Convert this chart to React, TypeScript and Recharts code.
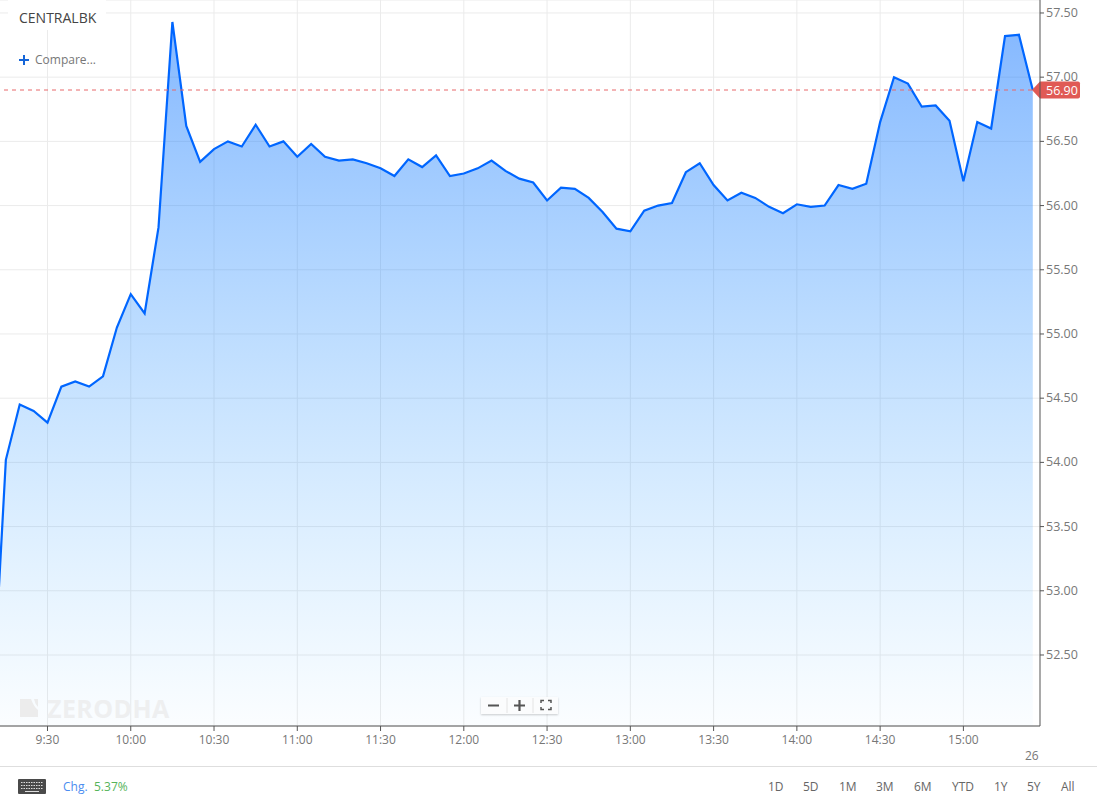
import React from "react";
import { ComposedChart, Area, XAxis, YAxis, CartesianGrid, ReferenceLine } from "recharts";

// minutes since midnight, one reading every five minutes from 9:10
const startMinutes = [550];
const prices = [
  52.03, 54.02, 54.45, 54.40, 54.31, 54.59, 54.63, 54.59, 54.67, 55.05, 55.31, 55.16, 55.83, 57.43, 56.62, 56.34,
  56.44, 56.50, 56.46, 56.63, 56.46, 56.50, 56.38, 56.48, 56.38, 56.35, 56.36, 56.33, 56.29, 56.23, 56.36, 56.30,
  56.39, 56.23, 56.25, 56.29, 56.35, 56.27, 56.21, 56.18, 56.04, 56.14, 56.13, 56.06, 55.95, 55.82, 55.80, 55.96,
  56.00, 56.02, 56.26, 56.33, 56.16, 56.04, 56.10, 56.06, 55.99, 55.94, 56.01, 55.99, 56.00, 56.16, 56.13, 56.17,
  56.65, 57.00, 56.95, 56.77, 56.78, 56.66, 56.19, 56.65, 56.60, 57.32, 57.33, 56.90,
];
const priceTicks = [52.5, 53, 53.5, 54, 54.5, 55, 55.5, 56, 56.5, 57, 57.5];
const timeTicks = [570, 600, 630, 660, 690, 720, 750, 780, 810, 840, 870, 900];
const lastPrice = 56.9;
const ranges = [
  { label: "1D", left: 768 },
  { label: "5D", left: 803 },
  { label: "1M", left: 839 },
  { label: "3M", left: 876 },
  { label: "6M", left: 914 },
  { label: "YTD", left: 952 },
  { label: "1Y", left: 994 },
  { label: "5Y", left: 1027 },
  { label: "All", left: 1061 },
];

const chartData = prices.map((price, i) => ({ minute: startMinutes[0] + i * 5, price }));
const FONT = '"Open Sans", sans-serif';

const fmtTime = (m: number) => `${Math.floor(m / 60)}:${String(m % 60).padStart(2, "0")}`;

const PriceTag = (props: any) => {
  const y = props.viewBox.y;
  const x = 1032;
  return (
    <g>
      <path
        d={`M${x} ${y} L${x + 8} ${y - 8.5} H1078 Q1080 ${y - 8.5} 1080 ${y - 6.5} V${y + 6.5} Q1080 ${y + 8.5} 1078 ${y + 8.5} H${x + 8} Z`}
        fill="#e05a55"
      />
      <text x={1046} y={y + 4.5} fill="#fff" fontSize={12.5} fontFamily={FONT}>
        {lastPrice.toFixed(2)}
      </text>
    </g>
  );
};

const abs = (left: number, top: number, extra: React.CSSProperties = {}): React.CSSProperties => ({
  position: "absolute",
  left,
  top,
  lineHeight: "16px",
  whiteSpace: "nowrap",
  ...extra,
});

export default function App() {
  return (
    <div style={{ position: "absolute", left: 0, top: 0, width: 1097, height: 809, overflow: "hidden", background: "#fff", fontFamily: FONT, fontSize: 12, color: "#666" }}>
      <ComposedChart width={1097} height={809} data={chartData} margin={{ top: 0, right: 0, bottom: 0, left: 0 }}>
        <defs>
          <linearGradient id="priceFill" gradientUnits="userSpaceOnUse" x1="0" y1="22" x2="0" y2="726">
            <stop offset="0%" stopColor="#0a70ff" stopOpacity={0.5} />
            <stop offset="100%" stopColor="#2fa6ff" stopOpacity={0.02} />
          </linearGradient>
        </defs>
        <CartesianGrid stroke="#ebebeb" strokeWidth={1} verticalValues={timeTicks as any} />
        <XAxis
          dataKey="minute"
          type="number"
          domain={[552.89, 927.6]}
          allowDataOverflow
          ticks={timeTicks}
          tickFormatter={fmtTime}
          interval={0}
          height={83}
          stroke="#555"
          tickSize={5}
          tickMargin={4}
          tick={{ fill: "#777", fontSize: 12, fontFamily: FONT }}
        />
        <YAxis
          orientation="right"
          type="number"
          domain={[51.947, 57.601]}
          allowDataOverflow
          ticks={priceTicks}
          tickFormatter={(v: number) => v.toFixed(2)}
          interval={0}
          width={57}
          stroke="#555"
          tickSize={4}
          tickMargin={2}
          tick={{ fill: "#777", fontSize: 12.5, fontFamily: FONT, dy: -0.5 }}
        />
        <Area
          dataKey="price"
          type="linear"
          stroke="#0066ff"
          strokeWidth={2.2}
          fill="url(#priceFill)"
          fillOpacity={1}
          dot={false}
          activeDot={false}
          isAnimationActive={false}
        />
        <ReferenceLine y={lastPrice} stroke="#e8696a" strokeDasharray="4 4" strokeWidth={1} label={<PriceTag />} />
      </ComposedChart>

      <div style={{ position: "absolute", left: 8, top: 0, width: 98, height: 30, background: "#fff" }} />
      <div style={abs(19, 10, { fontSize: 14, color: "#444" })}>CENTRALBK</div>
      <svg style={{ position: "absolute", left: 19, top: 55 }} width={10} height={10}>
        <path d="M0 5 H10 M5 0 V10" stroke="#1565d8" strokeWidth={2} />
      </svg>
      <div style={abs(35, 52, { color: "#777" })}>Compare...</div>

      <svg style={{ position: "absolute", left: 20, top: 699 }} width={19} height={19}>
        <path d="M0 0 H11 Q14 8 18 11 V18 H0 Z M14 0 H18 V8 Q15 5 14 0 Z" fill="#ececec" />
      </svg>
      <div style={abs(47, 696, { fontSize: 25, lineHeight: "24px", fontWeight: 700, color: "#eeeff0", letterSpacing: 0.4 })}>ZERODHA</div>

      <div style={{ position: "absolute", left: 481, top: 697, width: 77, height: 17, background: "#fbfcfd", boxShadow: "0 1px 2px rgba(0,0,0,0.2)" }} />
      <svg style={{ position: "absolute", left: 481, top: 697 }} width={77} height={17}>
        <path d="M7 8.5 H18 M33 8.5 H44 M38.5 3 V14" stroke="#555" strokeWidth={2.2} fill="none" />
        <path d="M26 1 V16 M52 1 V16" stroke="#e4e4e4" strokeWidth={1} fill="none" />
        <path d="M60 6 V3.5 H63 M67 3.5 H70 V6 M70 10 V12.5 H67 M63 12.5 H60 V10" stroke="#555" strokeWidth={1.5} fill="none" />
      </svg>

      <div style={abs(1025, 748, { color: "#777" })}>26</div>
      <div style={{ position: "absolute", left: 0, top: 766, width: 1097, height: 1, background: "#dedede" }} />

      <svg style={{ position: "absolute", left: 18, top: 779 }} width={28} height={16}>
        <rect x={0} y={0} width={28} height={15} rx={1} fill="#4a4a4a" />
        <path d="M3 3.5 H25 M3 6.5 H25 M3 9.5 H25" stroke="#ddd" strokeWidth={1} strokeDasharray="1.5 1" />
        <path d="M7 12.5 H21" stroke="#ddd" strokeWidth={1} />
      </svg>
      <div style={abs(63, 779, { color: "#4a8df0" })}>Chg.</div>
      <div style={abs(94, 779, { color: "#55b45a" })}>5.37%</div>
      {ranges.map((r) => (
        <div key={r.label} style={abs(r.left, 779, { color: "#666" })}>
          {r.label}
        </div>
      ))}
    </div>
  );
}
